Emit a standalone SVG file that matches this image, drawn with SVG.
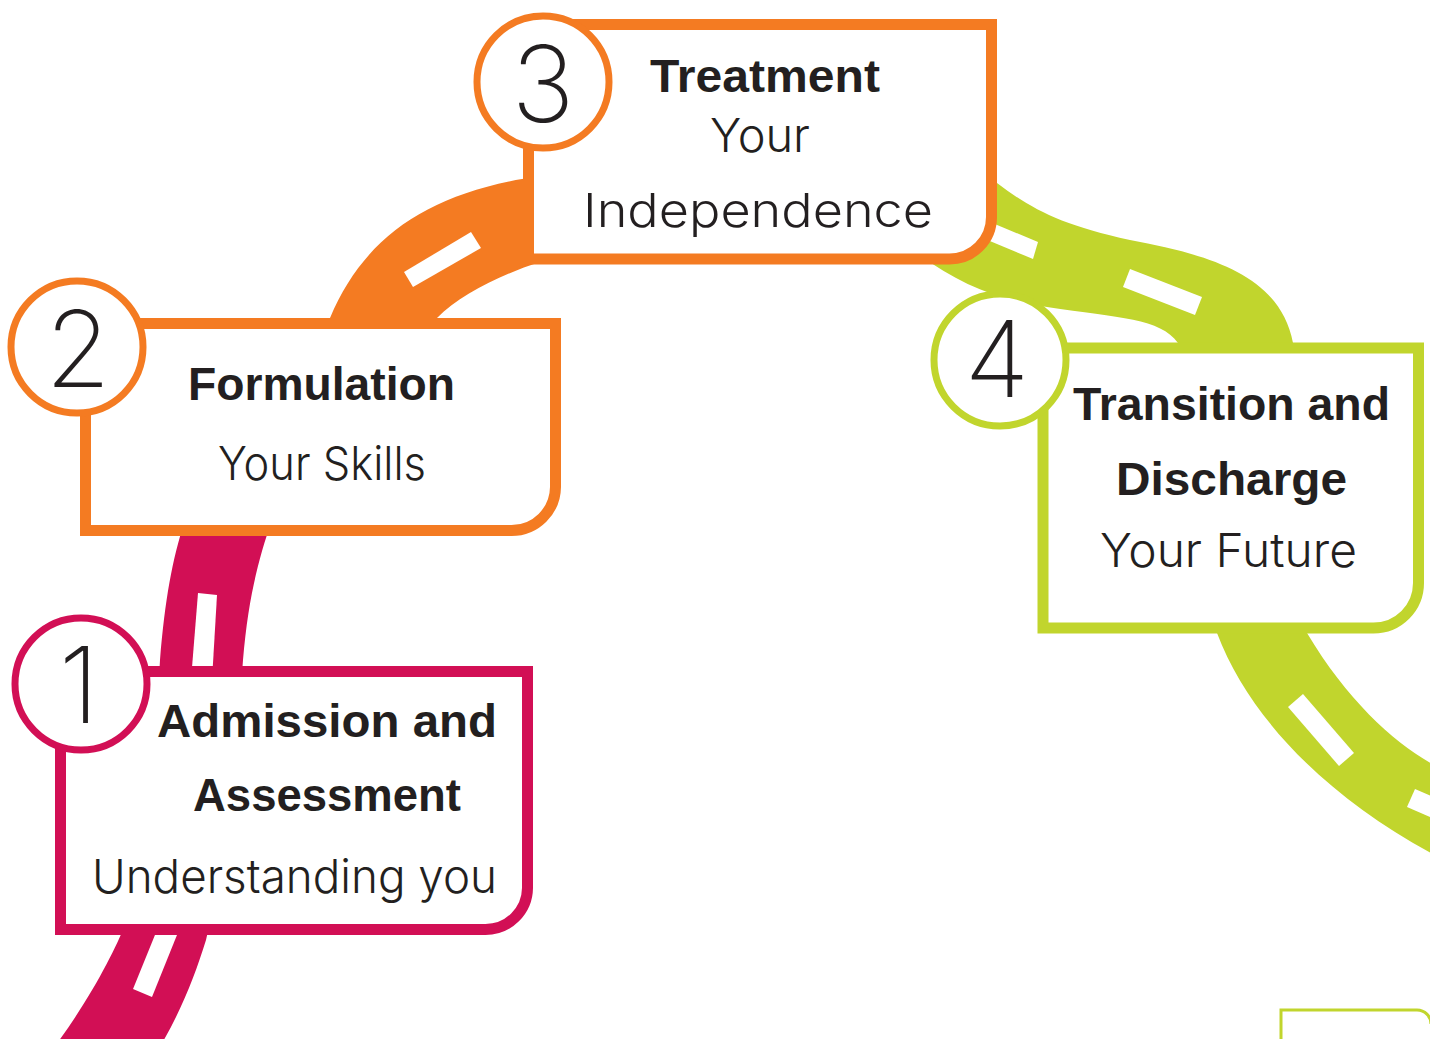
<svg xmlns="http://www.w3.org/2000/svg" width="1430" height="1039" viewBox="0 0 1430 1039">
<style>
.box{fill:#fff;stroke-width:11;stroke-linejoin:miter}
.ring{fill:#fff;stroke-width:7}
.m{stroke:#D20F55}.o{stroke:#F47B22}.g{stroke:#C1D52D}
.fm{fill:#D20F55}.fo{fill:#F47B22}.fg{fill:#C1D52D}
.dash{fill:#fff}
.b{font-family:"Liberation Sans",Arial,sans-serif;font-weight:bold;font-size:47px;fill:#231F20;text-anchor:middle}
.r{font-family:Inter,"Liberation Sans",Arial,sans-serif;font-weight:300;font-size:47px;fill:#231F20;text-anchor:middle}
.n{font-family:Inter,"Open Sans","Liberation Sans",sans-serif;font-weight:200;font-size:106px;fill:#231F20;text-anchor:middle}
</style>
<rect width="1430" height="1039" fill="#fff"/>
<g id="connectors">
  <path class="fm" d="M52 1050 C90 1000 115 950 125 925 C145 860 155 760 160 660 C165 600 172 560 185 520 L272 520 C258 560 248 600 243 660 C236 760 225 860 206 940 C195 975 182 1010 158 1050 Z"/>
  <polygon class="dash" points="198,593 217,595 212,680 191,680"/>
  <polygon class="dash" points="159,925 181,925 152,997 133,989"/>
  <path class="fo" d="M322 330 L330 318 C365 235 430 192 540 176 L540 262 C500 275 460 295 437 318 L430 330 Z"/>
  <polygon class="dash" points="404,272 413,287 481,248 471,232"/>
  <path class="fg" d="M950 150 L997 183 C1030 208 1060 225 1130 240 C1210 255 1280 275 1293 343 L1293 370 L1175 370 L1178 343 C1160 318 1120 318 1047 307 C1000 300 960 285 920 255 Z"/>
  <polygon class="dash" points="990,222 1038,242 1033,259 985,239"/>
  <polygon class="dash" points="1130,269 1202,297 1195,315 1123,287"/>
  <path class="fg" d="M1217 620 L1217 633 C1250 720 1330 800 1440 858 L1440 768 C1400 748 1350 705 1307 633 L1305 620 Z"/>
  <polygon class="dash" points="1288,707 1303,694 1354,753 1339,766"/>
  <polygon class="dash" points="1415,789 1440,800 1432,818 1407,807"/>
</g>
<g id="node1">
  <path class="box m" d="M60.5 671.5 H527.5 V888 A42 42 0 0 1 485.5 929.5 H60.5 Z"/>
  <circle class="ring m" cx="81" cy="684" r="66"/>
  <text class="n" x="79" y="723">1</text>
  <text class="b" x="327" y="737" textLength="340" lengthAdjust="spacingAndGlyphs">Admission and</text>
  <text class="b" x="327" y="811" textLength="268" lengthAdjust="spacingAndGlyphs">Assessment</text>
  <text class="r" x="294.5" y="893" textLength="405" lengthAdjust="spacingAndGlyphs">Understanding you</text>
</g>
<g id="node2">
  <path class="box o" d="M85.5 323.5 H555.5 V487 A44 44 0 0 1 511.5 530.5 H85.5 Z"/>
  <circle class="ring o" cx="77" cy="347" r="66"/>
  <text class="n" x="78" y="387">2</text>
  <text class="b" x="321.5" y="400" textLength="267" lengthAdjust="spacingAndGlyphs">Formulation</text>
  <text class="r" x="322" y="480" textLength="208" lengthAdjust="spacingAndGlyphs">Your Skills</text>
</g>
<g id="node3">
  <path class="box o" d="M528.5 24.5 H991.5 V217 A42 42 0 0 1 949.5 259 H528.5 Z"/>
  <circle class="ring o" cx="543" cy="82" r="66"/>
  <text class="n" x="543" y="122">3</text>
  <text class="b" x="765" y="92" textLength="230" lengthAdjust="spacingAndGlyphs">Treatment</text>
  <text class="r" x="760" y="152" textLength="100" lengthAdjust="spacingAndGlyphs">Your</text>
  <text class="r" x="758" y="227" textLength="350" lengthAdjust="spacingAndGlyphs">Independence</text>
</g>
<g id="node4">
  <path class="box g" d="M1043 348 H1418.5 V583 A45 45 0 0 1 1373.5 628 H1043 Z"/>
  <circle class="ring g" cx="1000" cy="360" r="66"/>
  <text class="n" x="997" y="397">4</text>
  <text class="b" x="1231.5" y="420" textLength="317" lengthAdjust="spacingAndGlyphs">Transition and</text>
  <text class="b" x="1231.5" y="495" textLength="231" lengthAdjust="spacingAndGlyphs">Discharge</text>
  <text class="r" x="1228.5" y="567" textLength="257" lengthAdjust="spacingAndGlyphs">Your Future</text>
</g>
<g id="node5">
  <path d="M1281 1041 V1010 H1417 A14 14 0 0 1 1431 1024" fill="none" stroke="#C1D52D" stroke-width="3"/>
</g>
</svg>
